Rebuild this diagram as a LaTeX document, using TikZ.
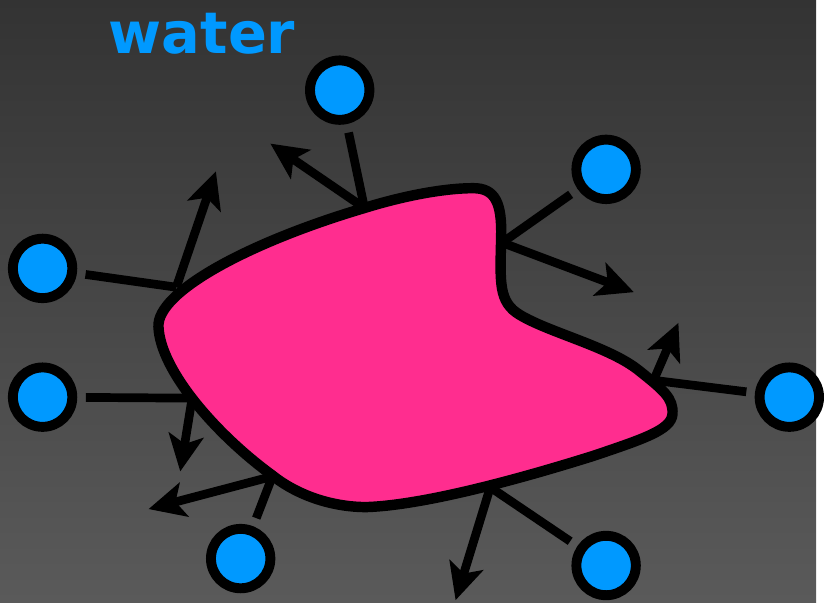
\documentclass[tikz,border=0pt]{standalone}
\usepackage{fontspec}
\setsansfont{DejaVu Sans}
\usetikzlibrary{arrows.meta}
\definecolor{waterblue}{HTML}{0099FF}
\definecolor{blobpink}{HTML}{FF2D8F}
\definecolor{bgtop}{HTML}{333333}
\definecolor{bgbot}{HTML}{5A5A5A}
\begin{document}
\begin{tikzpicture}[x=0.02cm,y=-0.02cm,>={Stealth[length=21pt,width=20pt,inset=5pt]}]
  \tikzstyle{mol}=[circle,draw,line width=5.7pt,fill=waterblue,minimum size=1.2cm,inner sep=0pt]
  \tikzstyle{bond}=[line width=5pt,shorten <=5pt]
  \tikzstyle{push}=[line width=5pt,->]
  \shade[top color=bgtop,bottom color=bgbot] (0,0) rectangle (824,608);
  \node[text=waterblue,font=\sffamily\bfseries\fontsize{33}{33}\selectfont] (title) at (204,34) {water};
  % water molecules
  \node[mol] (m1) at (343,91) {};
  \node[mol] (m2) at (612,171) {};
  \node[mol] (m3) at (43,271) {};
  \node[mol] (m4) at (43,401) {};
  \node[mol] (m5) at (797,401) {};
  \node[mol] (m6) at (243,564) {};
  \node[mol] (m7) at (612,571) {};
  % contact points on the blob
  \coordinate (a1) at (368,210);
  \coordinate (a2) at (178,290);
  \coordinate (a3) at (507,245);
  \coordinate (a4) at (660,384);
  \coordinate (a5) at (194,402);
  \coordinate (a6) at (275,481);
  \coordinate (a7) at (495,492);
  % arrow tips
  \coordinate (t1) at (273,145);
  \coordinate (t2) at (218,173);
  \coordinate (t3) at (640,295);
  \coordinate (t4) at (685,326);
  \coordinate (t5) at (182,476);
  \coordinate (t6) at (150,514);
  \coordinate (t7) at (460,606);
  \draw[bond] (m1) -- (a1);
  \draw[bond] (m2) -- (a3);
  \draw[bond] (m3) -- (a2);
  \draw[bond] (m4) -- (a5);
  \draw[bond] (m5) -- (a4);
  \draw[bond] (m6) -- (a6);
  \draw[bond] (m7) -- (a7);
  \draw[push] (a1) -- (t1);
  \draw[push] (a2) -- (t2);
  \draw[push] (a3) -- (t3);
  \draw[push] (a4) -- (t4);
  \draw[push] (a5) -- (t5);
  \draw[push] (a6) -- (t6);
  \draw[push] (a7) -- (t7);
  % the blob
  \draw[line width=6pt,fill=blobpink] (160,330)
    .. controls (158,295) and (250,245) .. (368,210)
    .. controls (410,197) and (450,190) .. (478,190)
    .. controls (500,190) and (507,205) .. (506,240)
    .. controls (505,285) and (503,305) .. (525,318)
    .. controls (555,336) and (615,350) .. (645,374)
    .. controls (670,394) and (680,402) .. (679,418)
    .. controls (678,434) and (650,443) .. (600,460)
    .. controls (530,482) and (430,510) .. (370,512)
    .. controls (335,512) and (300,500) .. (275,480)
    .. controls (220,440) and (162,375) .. cycle;
\end{tikzpicture}
\end{document}
